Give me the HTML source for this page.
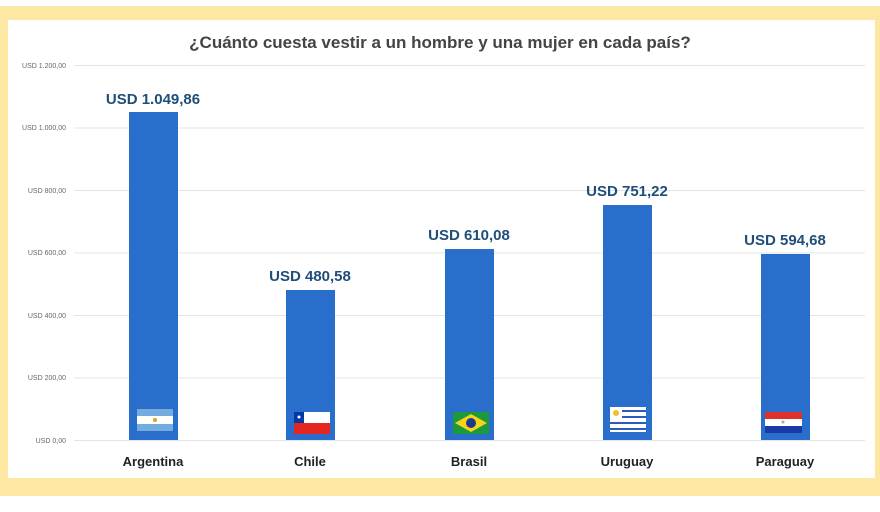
<!DOCTYPE html>
<html><head><style>
body{margin:0;width:880px;height:512px;background:#fff;position:relative;overflow:hidden;font-family:"Liberation Sans",sans-serif}
.frame{position:absolute;left:0;top:6px;width:880px;height:490px;background:#fde8a3}
.inner{position:absolute;left:8px;top:20px;width:867px;height:458px;background:#fff}
.t{position:absolute;white-space:nowrap}
</style></head><body>
<div class="frame"></div><div class="inner"></div>
<svg width="880" height="512" style="position:absolute;left:0;top:0" font-family="Liberation Sans, sans-serif">
<text x="440" y="48" text-anchor="middle" font-size="17" font-weight="bold" fill="#444">¿Cuánto cuesta vestir a un hombre y una mujer en cada país?</text>
<g stroke="#e4e4e4" stroke-width="1">
<line x1="74" x2="865" y1="65.5" y2="65.5"/><line x1="74" x2="865" y1="128" y2="128"/><line x1="74" x2="865" y1="190.5" y2="190.5"/><line x1="74" x2="865" y1="253" y2="253"/><line x1="74" x2="865" y1="315.5" y2="315.5"/><line x1="74" x2="865" y1="378" y2="378"/><line x1="74" x2="865" y1="440.5" y2="440.5"/>
</g>
<g font-size="7" fill="#666" text-anchor="end">
<text x="66" y="68">USD 1.200,00</text><text x="66" y="130">USD 1.000,00</text><text x="66" y="193">USD 800,00</text><text x="66" y="255">USD 600,00</text><text x="66" y="318">USD 400,00</text><text x="66" y="380">USD 200,00</text><text x="66" y="443">USD 0,00</text>
</g>
<g fill="#2a6ecb">
<rect x="129" y="112" width="49" height="328"/>
<rect x="286" y="290" width="49" height="150"/>
<rect x="445" y="249" width="49" height="191"/>
<rect x="603" y="205" width="49" height="235"/>
<rect x="761" y="254" width="49" height="186"/>
</g>
<g font-size="15" font-weight="bold" fill="#1f4e79" text-anchor="middle">
<text x="153" y="104">USD 1.049,86</text><text x="310" y="281">USD 480,58</text><text x="469" y="240">USD 610,08</text><text x="627" y="196">USD 751,22</text><text x="785" y="245">USD 594,68</text>
</g>
<g font-size="13" font-weight="bold" fill="#222" text-anchor="middle">
<text x="153" y="466">Argentina</text><text x="310" y="466">Chile</text><text x="469" y="466">Brasil</text><text x="627" y="466">Uruguay</text><text x="785" y="466">Paraguay</text>
</g>
<!-- flags -->
<rect x="137" y="409" width="36" height="22" fill="#74acdf"/><rect x="137" y="416" width="36" height="8" fill="#fff"/><circle cx="155" cy="420" r="2" fill="#e0a030"/>
<rect x="294" y="412" width="36" height="11" fill="#fff"/><rect x="294" y="423" width="36" height="11" fill="#e52521"/><rect x="294" y="412" width="10" height="11" fill="#0039a6"/><circle cx="299" cy="417" r="1.5" fill="#fff"/>
<rect x="453" y="412" width="36" height="22" fill="#1a9a3a"/><polygon points="471,414 487,423 471,432 455,423" fill="#f7d417"/><circle cx="471" cy="423" r="5" fill="#1c3a8c"/>
<rect x="610" y="407" width="36" height="25" fill="#fff"/><g fill="#2b5bbf"><rect x="610" y="410" width="36" height="2"/><rect x="610" y="416" width="36" height="2"/><rect x="610" y="422" width="36" height="2"/><rect x="610" y="428" width="36" height="2"/></g><rect x="610" y="407" width="12" height="12" fill="#fff"/><circle cx="616" cy="413" r="3" fill="#f0c030"/>
<rect x="765" y="412" width="37" height="7" fill="#e0302a"/><rect x="765" y="419" width="37" height="7" fill="#fff"/><rect x="765" y="426" width="37" height="7" fill="#1a3aa8"/><circle cx="783" cy="422" r="1.5" fill="#aaa"/>
</svg>
</body></html>
